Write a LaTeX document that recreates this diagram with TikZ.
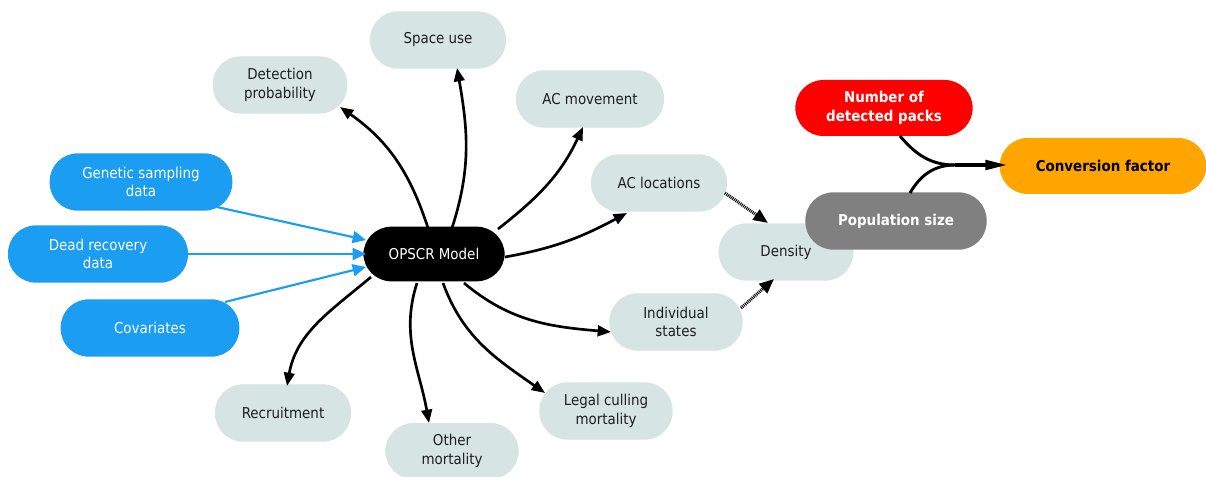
\documentclass[tikz,border=0pt]{standalone}
\usepackage{fontspec}
\setmainfont{DejaVu Sans Condensed}
\usetikzlibrary{arrows.meta,calc}
\definecolor{cblue}{RGB}{27,157,242}
\definecolor{clight}{RGB}{214,228,228}
\definecolor{cgray}{RGB}{128,128,128}
\definecolor{cred}{RGB}{255,0,0}
\definecolor{corange}{RGB}{255,165,0}
\definecolor{ctext}{RGB}{30,30,30}
\begin{document}
\begin{tikzpicture}[x=0.75pt,y=-0.75pt,
  every node/.style={font=\fontsize{11.2}{13.9}\selectfont, align=center, inner sep=0pt},
  pill/.style={rounded corners=21pt, minimum height=43pt},
  lightbox/.style={pill, fill=clight, text=ctext},
  bluebox/.style={pill, fill=cblue, text=white},
  boldtxt/.style={font=\fontsize{11.2}{13.9}\selectfont\bfseries},
  blk/.style={line width=2pt, -{Triangle[length=10pt,width=8pt]}},
  blu/.style={cblue, line width=1.6pt, -{Triangle[length=10pt,width=9pt]}},
  dots/.style={line width=2.4pt, dash pattern=on 0.7pt off 0.7pt, -{Triangle[length=11pt,width=9pt]}},
  junc/.style={line width=2.2pt}
]
\useasboundingbox (0,0) rectangle (1206,477);

% input nodes
\node[bluebox, minimum width=137pt] (gen) at (141,182) {Genetic sampling\\data};
\node[bluebox, minimum width=135pt] (dead) at (98,254) {Dead recovery\\data};
\node[bluebox, minimum width=134pt] (cov) at (150,328) {Covariates};

% model
\node[pill, fill=black, text=white, minimum width=106pt, minimum height=41pt] (model) at (434,254) {OPSCR Model};

% outputs
\node[lightbox, minimum width=101pt] (det) at (280,85) {Detection\\probability};
\node[lightbox, minimum width=102pt] (space) at (438,40) {Space use};
\node[lightbox, minimum width=111pt] (acm) at (590,99) {AC movement};
\node[lightbox, minimum width=102pt] (acl) at (659,183) {AC locations};
\node[lightbox, minimum width=101pt] (dens) at (786,252) {Density};
\node[lightbox, minimum width=100pt] (ind) at (676,322) {Individual\\states};
\node[lightbox, minimum width=102pt] (rec) at (283,413) {Recruitment};
\node[lightbox, minimum width=100pt, minimum height=42pt] (oth) at (452,451) {Other\\mortality};
\node[lightbox, minimum width=100pt] (leg) at (606,411) {Legal culling\\mortality};

% right cluster
\node[pill, fill=cred, text=white, boldtxt, minimum width=133pt, minimum height=42pt] (packs) at (884,108) {Number of\\detected packs};
\node[pill, fill=corange, text=black, boldtxt, minimum width=155pt, minimum height=42pt] (conv) at (1103,166) {Conversion factor};
\node[pill, fill=cgray, text=white, boldtxt, minimum width=136pt] (pop) at (896,221) {Population size};

% blue inputs
\draw[blu] ($(gen)+(76,25)$) -- ($(model)+(-68,-14)$);
\draw[blu] ($(dead)+(90,0)$) -- ($(model)+(-68,0)$);
\draw[blu] ($(cov)+(75,-26)$) -- ($(model)+(-68,13)$);

% black outputs
\draw[blk] ($(model)+(-6,-26)$) to[out=108,in=-35] ($(det)+(60,22)$);
\draw[blk] ($(model)+(18,-26)$) to[out=72,in=-80] ($(space)+(19,28)$);
\draw[blk] ($(model)+(64,-25)$) to[out=38,in=-115] ($(acm)+(-7,28)$);
\draw[blk] ($(model)+(71,3)$) to[out=10,in=-152] ($(acl)+(-32,30)$);
\draw[blk] ($(model)+(30,29)$) to[out=-40,in=175] ($(ind)+(-65,10)$);
\draw[blk] ($(model)+(9,29)$) to[out=-70,in=145] ($(leg)+(-61,-18)$);
\draw[blk] ($(model)+(-17,29)$) to[out=-108,in=100] ($(oth)+(-23,-28)$);
\draw[blk] ($(model)+(-63,23)$) to[out=-140,in=80] ($(rec)+(4,-27)$);

% dotted to density
\draw[dots] ($(acl)+(66,10)$) -- ($(dens)+(-18,-29)$);
\draw[dots] ($(ind)+(65,-14)$) -- ($(dens)+(-12,27)$);

% junction
\coordinate (j) at (955,165);
\draw[junc] ($(packs)+(16,28)$) to[out=-50,in=180] (j);
\draw[junc] ($(pop)+(14,-28)$) to[out=60,in=180] (j);
\draw[line width=3pt, -{Triangle[length=17pt,width=7pt]}] (j) -- ($(conv)+(-95,-1)$);
\end{tikzpicture}
\end{document}
